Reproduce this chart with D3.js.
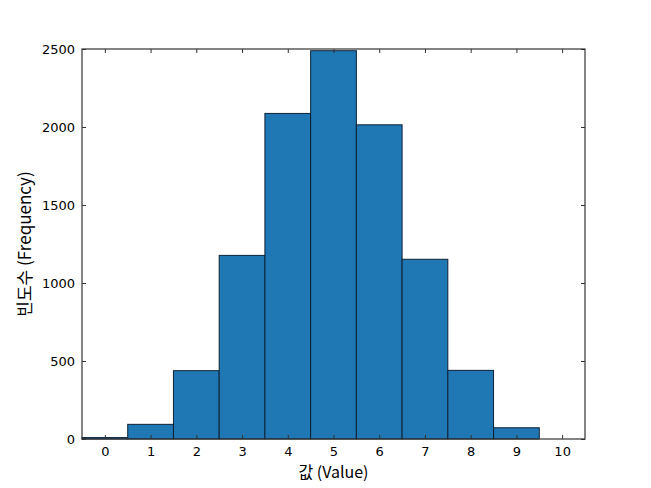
<!DOCTYPE html>
<html><head><meta charset="utf-8">
<script src="https://cdn.jsdelivr.net/npm/d3@7"></script>
<style>body{margin:0;background:#fff}svg{display:block}</style>
</head><body>
<script>
const categories = [0,1,2,3,4,5,6,7,8,9,10];
const counts = [9, 94, 438, 1177, 2087, 2489, 2014, 1152, 440, 72, 0];
const xTicks = [0,1,2,3,4,5,6,7,8,9,10];
const yTicks = [0,500,1000,1500,2000,2500];

const W = 651, H = 488;
const m = {left: 82, right: 585, top: 49, bottom: 439};
const svg = d3.select("body").append("svg").attr("width", W).attr("height", H);

const x = d3.scaleLinear().domain([-0.5, 10.5]).range([m.left, m.right]);
const y = d3.scaleLinear().domain([0, 2500]).range([m.bottom, m.top]);

svg.append("g").selectAll("rect").data(categories).join("rect")
  .attr("x", d => x(d - 0.5))
  .attr("width", d => x(d + 0.5) - x(d - 0.5))
  .attr("y", (d, i) => y(counts[i]))
  .attr("height", (d, i) => y(0) - y(counts[i]))
  .attr("fill", "#1f77b4")
  .attr("stroke", "#0d2236")
  .attr("stroke-width", 1)
  .attr("display", (d, i) => counts[i] > 0 ? null : "none");

const font = "DejaVu Sans, sans-serif";
const axisStyle = g => {
  g.select(".domain").remove();
  g.selectAll(".tick line").attr("stroke", "#333");
  g.selectAll(".tick text").attr("font-family", font).attr("font-size", 13).attr("fill", "#000");
};

svg.append("g").attr("transform", `translate(0,${m.bottom})`)
  .call(d3.axisBottom(x).tickValues(xTicks).tickFormat(d3.format("d")).tickSizeInner(-4).tickSizeOuter(0).tickPadding(8))
  .call(axisStyle);
svg.append("g").attr("transform", `translate(0,${m.top})`)
  .call(d3.axisTop(x).tickValues(xTicks).tickFormat("").tickSizeInner(-4).tickSizeOuter(0))
  .call(axisStyle);
svg.append("g").attr("transform", `translate(${m.left},0)`)
  .call(d3.axisLeft(y).tickValues(yTicks).tickFormat(d3.format("d")).tickSizeInner(-4).tickSizeOuter(0).tickPadding(7))
  .call(axisStyle);
svg.append("g").attr("transform", `translate(${m.right},0)`)
  .call(d3.axisRight(y).tickValues(yTicks).tickFormat("").tickSizeInner(-4).tickSizeOuter(0))
  .call(axisStyle);

svg.append("rect").attr("x", m.left).attr("y", m.top)
  .attr("width", m.right - m.left).attr("height", m.bottom - m.top)
  .attr("fill", "none").attr("stroke", "#333").attr("stroke-width", 1.2);

const lfont = "'Noto Sans CJK KR', 'Noto Sans', sans-serif";
svg.append("text").attr("x", (m.left + m.right) / 2).attr("y", 478)
  .attr("text-anchor", "middle").attr("font-family", lfont).attr("font-size", 16)
  .text("값 (Value)");
svg.append("text").attr("transform", `translate(31,${(m.top + m.bottom) / 2}) rotate(-90)`)
  .attr("text-anchor", "middle").attr("font-family", lfont).attr("font-size", 17)
  .text("빈도수 (Frequency)");
</script>
</body></html>
